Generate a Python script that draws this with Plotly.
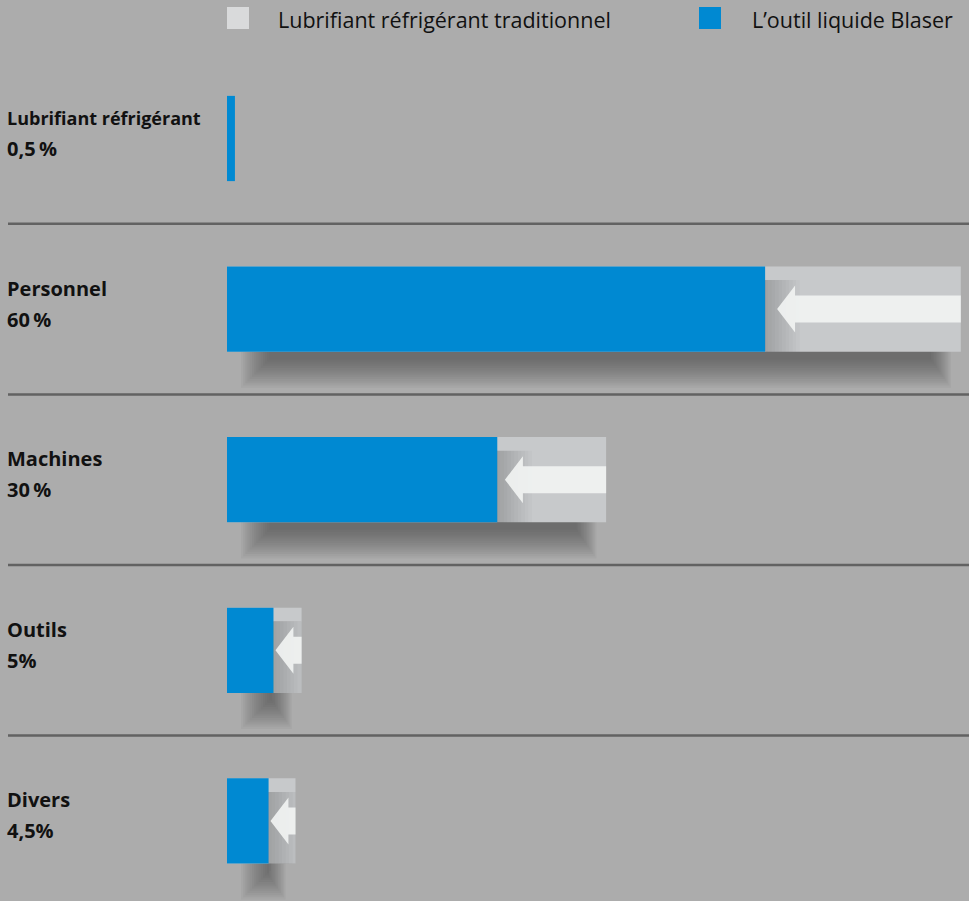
import plotly.graph_objects as go

# ---------------- data ----------------
categories = ["Lubrifiant réfrigérant", "Personnel", "Machines", "Outils", "Divers"]
share_labels = ["0,5\u2009%", "60\u2009%", "30\u2009%", "5%", "4,5%"]
traditional = [0.65, 60.0, 31.0, 6.1, 5.6]
blaser = [0.65, 44.0, 22.1, 3.8, 3.4]
series_names = ["Lubrifiant réfrigérant traditionnel", "L\u2019outil liquide Blaser"]

# ---------------- style ----------------
W, H = 969, 901
BG = "#acacac"
GRAY = "#c7c9cb"
BLUE = "#0089d2"
TEXT = "#111111"
FONT = "Open Sans"
X0_PX = 227.0          # pixel of value 0
PX_X = 12.23           # pixels per value unit
Y0_PX = 138.5          # pixel of first category centre
PX_Y = 170.6           # pixels per category step

x_range = [-X0_PX / PX_X, (W - X0_PX) / PX_X]
y_range = [len(categories) - 1 + (H - (Y0_PX + PX_Y * (len(categories) - 1))) / PX_Y,
           -Y0_PX / PX_Y]

fig = go.Figure()
fig.add_trace(go.Bar(orientation="h", y=categories, x=traditional, name=series_names[0],
                     marker=dict(color=GRAY, line=dict(width=0)), width=0.5,
                     showlegend=False, hoverinfo="x+name"))
fig.add_trace(go.Bar(orientation="h", y=categories, x=blaser, name=series_names[1],
                     marker=dict(color=BLUE, line=dict(width=0)), width=0.5,
                     showlegend=False, hoverinfo="x+name"))

shapes = []
annotations = []
half_bar = 0.25
for i, (cat, t, b) in enumerate(zip(categories, traditional, blaser)):
    t_px = t * PX_X
    # fake blurred drop shadow under the bar
    if t_px > 20:
        n = 14
        for j in range(n):
            inset = (14 + 2.2 * j) / PX_X
            drop = (36 - 2.2 * j) / PX_Y
            shapes.append(dict(type="rect", layer="below", xref="x", yref="y",
                               x0=inset, x1=max(t - inset * 0.7, inset + 0.1),
                               y0=i, y1=i + half_bar + drop,
                               fillcolor="rgba(50,50,50,0.05)", line=dict(width=0)))
    gap_px = (t - b) * PX_X
    if gap_px > 15:
        # soft shading cast by the blue bar on the grey part
        for j in range(10):
            w = (3 + 3.5 * j) / PX_X
            shapes.append(dict(type="rect", layer="above", xref="x", yref="y",
                               x0=b, x1=min(b + w, t), y0=i - half_bar + 0.08, y1=i + half_bar,
                               fillcolor="rgba(60,60,60,0.025)", line=dict(width=0)))
        tip = b + min(12.0, 0.07 * gap_px) / PX_X
        back = tip + 18.0 / PX_X
        hh = 23.5 / PX_Y
        sh = 13.5 / PX_Y
        path = (f"M {tip},{i} L {back},{i - hh} L {back},{i - sh} L {t},{i - sh} "
                f"L {t},{i + sh} L {back},{i + sh} L {back},{i + hh} Z")
        shapes.append(dict(type="path", layer="above", xref="x", yref="y", path=path,
                           fillcolor="rgba(241,243,242,0.92)", line=dict(width=0)))
    # separator line below each category except last
    if i < len(categories) - 1:
        shapes.append(dict(type="line", layer="below", xref="paper", yref="y",
                           x0=8 / W, x1=1, y0=i + 0.5, y1=i + 0.5,
                           line=dict(color="#626262", width=2.5)))
    # category labels
    size = 18 if len(cat) > 15 else 20
    annotations.append(dict(xref="paper", yref="y", x=5 / W, y=i, xanchor="left",
                            yanchor="middle", yshift=21, showarrow=False,
                            text=f"<b>{cat}</b>", font=dict(size=size, color=TEXT, family=FONT)))
    annotations.append(dict(xref="paper", yref="y", x=5 / W, y=i, xanchor="left",
                            yanchor="middle", yshift=-10, showarrow=False,
                            text=f"<b>{share_labels[i]}</b>", font=dict(size=20, color=TEXT, family=FONT)))

# manual legend
legend_items = [(series_names[0], "#d9dadb", 227, 276), (series_names[1], BLUE, 699, 750)]
for name, col, sx, tx in legend_items:
    shapes.append(dict(type="rect", xref="paper", yref="paper",
                       x0=sx / W, x1=(sx + 22) / W, y0=1 - 29 / H, y1=1 - 7 / H,
                       fillcolor=col, line=dict(width=0)))
    annotations.append(dict(xref="paper", yref="paper", x=tx / W, y=1 - 19 / H,
                            xanchor="left", yanchor="middle", showarrow=False,
                            text=name, font=dict(size=21.5, color=TEXT, family=FONT)))

fig.update_layout(
    width=W, height=H,
    margin=dict(l=0, r=0, t=0, b=0),
    paper_bgcolor=BG, plot_bgcolor=BG,
    barmode="overlay",
    xaxis=dict(range=x_range, visible=False, fixedrange=True),
    yaxis=dict(range=y_range, type="category", categoryorder="array",
               categoryarray=categories, visible=False, fixedrange=True),
    shapes=shapes, annotations=annotations,
    showlegend=False,
    font=dict(family=FONT, color=TEXT),
)

fig.write_html("out.html", config={"displayModeBar": False},
               post_script="document.body.style.margin='0';document.body.style.overflow='hidden';")
